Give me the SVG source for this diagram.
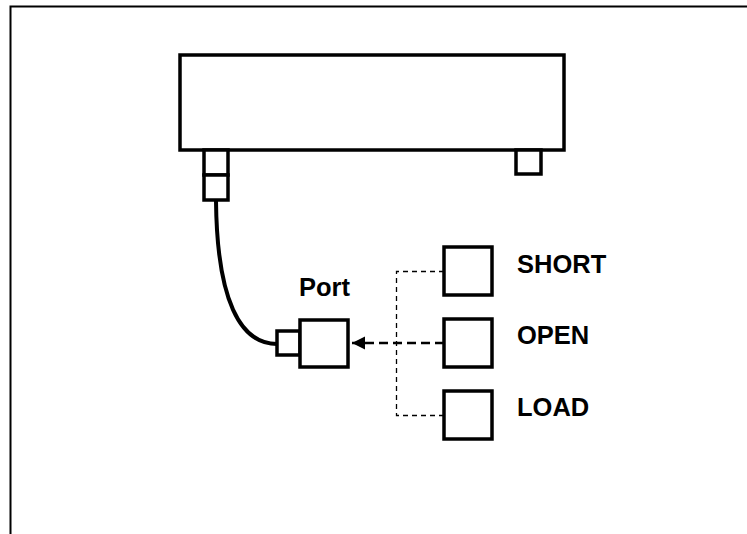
<svg xmlns="http://www.w3.org/2000/svg" width="747" height="534" viewBox="0 0 747 534">
<style>
.box{fill:#fff;stroke:#000;stroke-width:3.5}
.lbl{font-family:"Liberation Sans",Arial,sans-serif;font-weight:bold;font-size:25.5px;fill:#000}
.thin{fill:none;stroke:#000;stroke-width:1.3;stroke-dasharray:5 4}
.thick{fill:none;stroke:#000;stroke-width:2.5;stroke-dasharray:9 5}
</style>
<defs>
<marker id="ah" markerWidth="14" markerHeight="14" refX="13" refY="6.5" orient="auto" markerUnits="userSpaceOnUse">
<path d="M0,0 L13,6.5 L0,13 Z" fill="#000"/>
</marker>
</defs>
<rect x="0" y="0" width="747" height="534" fill="#fff"/>
<rect x="10.5" y="6.5" width="800" height="600" fill="none" stroke="#000" stroke-width="2"/>
<g id="analyzer">
<rect class="box" x="180" y="55" width="384" height="95"/>
</g>
<g id="connector-left">
<rect class="box" x="204" y="150" width="24" height="25"/>
<rect class="box" x="204" y="175" width="24" height="25"/>
</g>
<g id="connector-right">
<rect class="box" x="516" y="150" width="25" height="24"/>
</g>
<g id="connectors">
<path d="M216,201 C217,300 240,344 277,344" fill="none" stroke="#000" stroke-width="4"/>
<path class="thin" d="M444,271.5 H396.5 V415.5 H444"/>
<path class="thick" d="M444,343 H352" marker-end="url(#ah)"/>
</g>
<g id="port">
<rect class="box" x="277" y="331" width="23" height="24"/>
<rect class="box" x="300" y="320" width="48" height="47"/>
<text class="lbl" x="299" y="296">Port</text>
</g>
<g id="short">
<rect class="box" x="444" y="247" width="48" height="48"/>
<text class="lbl" x="517" y="273">SHORT</text>
</g>
<g id="open">
<rect class="box" x="444" y="319" width="48" height="48"/>
<text class="lbl" x="517" y="344">OPEN</text>
</g>
<g id="load">
<rect class="box" x="444" y="391" width="48" height="48"/>
<text class="lbl" x="517" y="416">LOAD</text>
</g>
</svg>
